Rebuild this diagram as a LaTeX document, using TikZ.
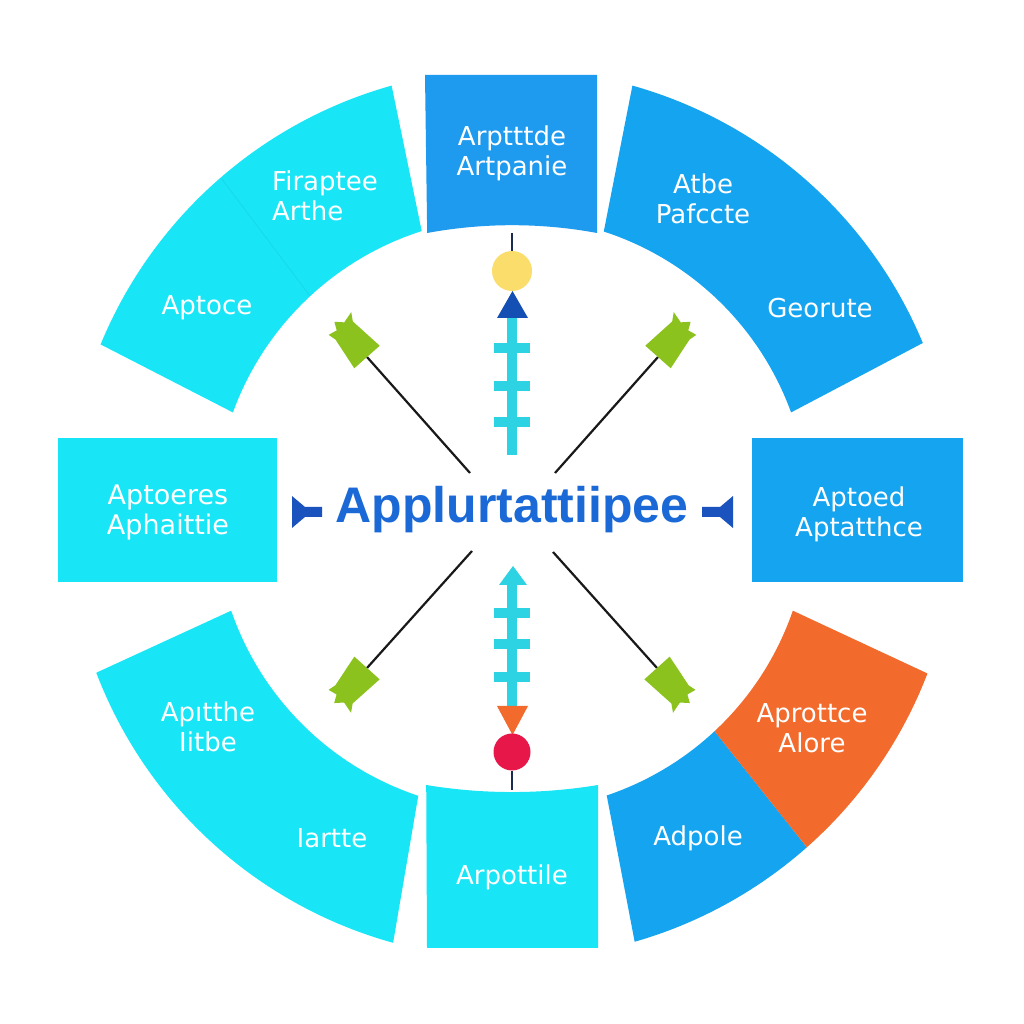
\documentclass[tikz,border=0pt]{standalone}
\usepackage{fontspec}
\setmainfont{DejaVu Sans}
\newfontfamily\titlefont{Liberation Sans}
\definecolor{cyanC}{HTML}{18E6F6}
\definecolor{cyanD}{HTML}{16DAEC}
\definecolor{blueB}{HTML}{15A4F0}
\definecolor{blueT}{HTML}{1E9AEE}
\definecolor{orangeC}{HTML}{F26A2C}
\definecolor{titleC}{HTML}{1A69D6}
\definecolor{brackC}{HTML}{1A52BE}
\definecolor{stemC}{HTML}{2DD3E3}
\definecolor{yellowC}{HTML}{FBDD6B}
\definecolor{redC}{HTML}{E8174A}
\definecolor{triB}{HTML}{1450B4}
\definecolor{darkL}{HTML}{1A2A50}
\definecolor{greenC}{HTML}{8CC21E}
\begin{document}
\begin{tikzpicture}[x=1pt,y=1pt,
  lab/.style={text=white, font=\fontsize{26}{30}\selectfont, align=center, inner sep=0},
  stemline/.style={stemC, line width=10},
  diag/.style={draw=black!90, line width=2.2},
  gtip/.pic={\fill[greenC] (0,-17) -- (36,-13) -- (44,-18) -- (41,-6) -- (48,1) -- (40,5) -- (42,14) -- (34,12) -- (0,17) -- cycle;}]
\useasboundingbox (0,0) rectangle (1024,1024);
\fill[white] (0,0) rectangle (1024,1024);

% ring segments
\begin{scope}[shift={(512,510)}]
\fill[cyanC] (105.7:445) arc[start angle=105.7, end angle=157.6, radius=445] -- (160:297) arc[start angle=160, end angle=107.7, radius=297] -- cycle;
\draw[cyanD, line width=1] (130.9:443) -- (132.8:298);
\fill[blueB] (74.3:445) arc[start angle=74.3, end angle=22.6, radius=445] -- (20:297) arc[start angle=20, end angle=72, radius=297] -- cycle;
\fill[cyanC] (200.9:445) arc[start angle=200.9, end angle=254.5, radius=445] -- (251.6:297) arc[start angle=251.6, end angle=199, radius=297] -- cycle;
\fill[blueB] (286:445) arc[start angle=286, end angle=311.5, radius=445] -- (313:297) arc[start angle=313, end angle=288.6, radius=297] -- cycle;
\fill[orangeC] (311.5:445) arc[start angle=311.5, end angle=339, radius=445] -- (341:297) arc[start angle=341, end angle=313, radius=297] -- cycle;
\end{scope}

% top and bottom boxes
\fill[blueT] (425,949) -- (597,949) -- (597,791) arc[start angle=79.5, end angle=100.5, radius=466] -- cycle;
\fill[cyanC] (427,76) -- (598,76) -- (598,239) arc[start angle=-80.6, end angle=-99.4, radius=526] -- cycle;

% side boxes
\fill[cyanC] (58,442) rectangle (277,586);
\fill[blueB] (752,442) rectangle (963,586);

% labels
\node[lab, align=left, anchor=west] (l1) at (272,828) {Firaptee\\Arthe};
\node[lab] (l2) at (207,716) {Aptoce};
\node[lab] (l3) at (512,871) {Arptttde\\Artpanie};
\node[lab] (l4) at (703,825) {Atbe\\Pafccte};
\node[lab] (l5) at (820,716) {Georute};
\node[lab, font=\fontsize{27}{30}\selectfont] (l6) at (168,512) {Aptoeres\\Aphaittie};
\node[lab] (l7) at (859,510) {Aptoed\\Aptatthce};
\node[lab] (l8) at (208,297) {Apıtthe\\Iitbe};
\node[lab] (l9) at (332,186) {Iartte};
\node[lab] (l10) at (812,296) {Aprottce\\Alore};
\node[lab] (l11) at (698,186) {Adpole};
\node[lab] (l12) at (512,147) {Arpottile};

% title and brackets
\node[font=\titlefont\bfseries\fontsize{50}{50}\selectfont, text=titleC, anchor=base, inner sep=0] (title) at (512,501) {Applurtattiipee};
\fill[brackC] (292,528) -- (305,517) -- (322,517) -- (322,507) -- (305,507) -- (292,496) -- cycle;
\fill[brackC] (733,528) -- (720,517) -- (702,517) -- (702,507) -- (720,507) -- (733,496) -- cycle;

% top vertical element
\coordinate (tT) at (512,791);
\coordinate (tB) at (512,772);
\draw[darkL, line width=2.5] (tT) -- (tB);
\node[circle, fill=yellowC, minimum size=40, inner sep=0] (sun) at (512,753) {};
\coordinate (tsA) at (512,706);
\coordinate (tsB) at (512,569);
\draw[stemline] (tsA) -- (tsB);
\fill[triB] (497,706) -- (528,706) -- (512.5,733) -- cycle;
\foreach \yy in {676,638,602} \draw[stemline] (494,\yy) -- (530,\yy);

% bottom vertical element
\coordinate (bsA) at (512,440);
\coordinate (bsB) at (512,317);
\draw[stemline] (bsA) -- (bsB);
\fill[stemC] (499,439) -- (527,439) -- (513,458) -- cycle;
\foreach \yy in {411,380,347} \draw[stemline] (494,\yy) -- (530,\yy);
\fill[orangeC] (497,318) -- (528,318) -- (512.5,289) -- cycle;
\node[circle, fill=redC, minimum size=37, inner sep=0] (dot) at (512,272) {};
\coordinate (bL) at (512,234);
\draw[darkL, line width=2.5] (dot.south) -- (bL);

% diagonal connectors with green tips
\coordinate (ulS) at (470,551); \coordinate (ulE) at (367,667);
\coordinate (urS) at (555,551); \coordinate (urE) at (658,667);
\coordinate (llS) at (472,473); \coordinate (llE) at (367,356);
\coordinate (lrS) at (553,472); \coordinate (lrE) at (657,356);
\draw[diag] (ulS) -- (ulE);
\draw[diag] (urS) -- (urE);
\draw[diag] (llS) -- (llE);
\draw[diag] (lrS) -- (lrE);
\pic[rotate=131.6] at (ulE) {gtip};
\pic[rotate=48.4, yscale=-1] at (urE) {gtip};
\pic[rotate=228.1, yscale=-1] at (llE) {gtip};
\pic[rotate=-48.1] at (lrE) {gtip};
\end{tikzpicture}
\end{document}
